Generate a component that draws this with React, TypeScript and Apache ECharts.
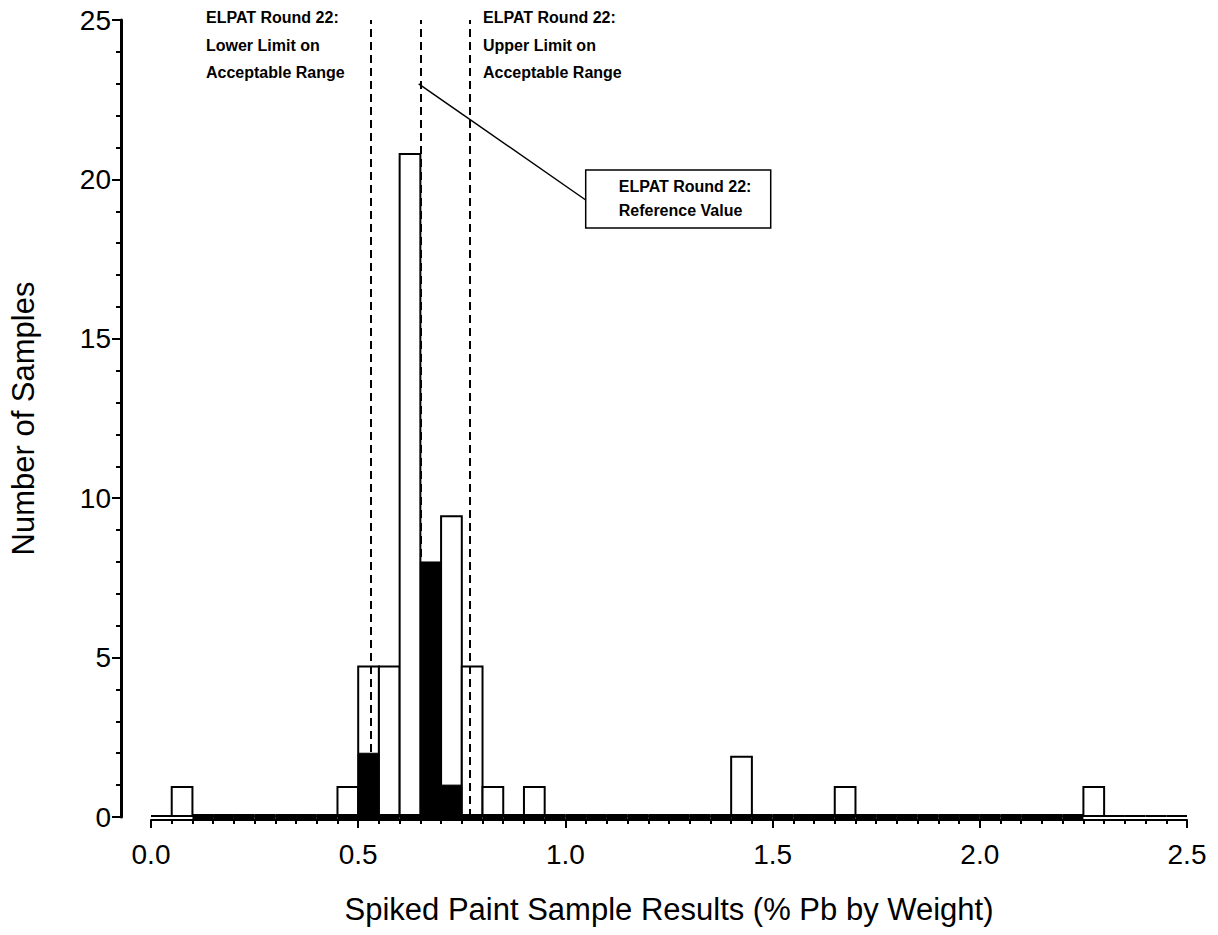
import React, { useEffect, useRef } from "react";
import * as echarts from "echarts";

// ---- data ----
const binWidth = 0.05;
// all spiked paint results (outlined bars), bins start at 0.00
const whiteBinStart = 0.0;
const whiteCounts = [
  0, 0.94, 0, 0, 0, 0, 0, 0, 0, 0.94, // 0.00 - 0.45
  4.72, 4.72, 20.8, 0, 9.43, 4.72, 0.94, 0, 0.94, 0, // 0.50 - 0.95
  0, 0, 0, 0, 0, 0, 0, 0, 1.89, 0, // 1.00 - 1.45
  0, 0, 0, 0.94, 0, 0, 0, 0, 0, 0, // 1.50 - 1.95
  0, 0, 0, 0, 0, 0.94, 0, 0, 0, 0, // 2.00 - 2.45
];
// subset results (solid bars), bins start at 0.10
const blackBinStart = 0.1;
const blackCounts = [
  0, 0, 0, 0, 0, 0, 0, 0, 2, 0, // 0.10 - 0.55
  0, 8, 1, 0, 0, 0, 0, 0, 0, 0, // 0.60 - 1.05
  0, 0, 0, 0, 0, 0, 0, 0, 0, 0, // 1.10 - 1.55
  0, 0, 0, 0, 0, 0, 0, 0, 0, 0, // 1.60 - 2.05
  0, 0, 0, // 2.10 - 2.20
];
const refLower = 0.526;
const refValue = 0.646;
const refUpper = 0.765;
const refLines = [refLower, refValue, refUpper];
const xMin = 0, xMax = 2.5, xStep = 0.5;
const yMin = 0, yMax = 25, yStep = 5;

const lowerText = "ELPAT Round 22:\nLower Limit on\nAcceptable Range";
const upperText = "ELPAT Round 22:\nUpper Limit on\nAcceptable Range";
const refText = "ELPAT Round 22:\nReference Value";

const FONT = "'Liberation Sans', Arial, sans-serif";

export default function App() {
  const ref = useRef<HTMLDivElement>(null);
  useEffect(() => {
    if (!ref.current) return;
    const chart = echarts.init(ref.current, null, { renderer: "svg" });
    const whiteData = whiteCounts.map((v, i) => [whiteBinStart + i * binWidth, v]);
    const blackData = blackCounts.map((v, i) => [blackBinStart + i * binWidth, v]);

    const option: any = {
      animation: false,
      backgroundColor: "#ffffff",
      grid: { left: 150, right: 31, top: 20, bottom: 118, containLabel: false },
      xAxis: {
        type: "value",
        min: xMin,
        max: xMax,
        interval: xStep,
        offset: 3,
        name: "Spiked Paint Sample Results (% Pb by Weight)",
        nameLocation: "middle",
        nameGap: 74,
        nameTextStyle: { fontFamily: FONT, fontSize: 31, color: "#000" },
        axisLine: { show: true, onZero: false, lineStyle: { color: "#000", width: 2 } },
        axisTick: { show: true, length: 8, lineStyle: { color: "#000", width: 2 } },
        minorTick: { show: true, splitNumber: 10, length: 4, lineStyle: { color: "#000", width: 2 } },
        splitLine: { show: false },
        minorSplitLine: { show: false },
        axisLabel: {
          fontFamily: FONT,
          fontSize: 28,
          color: "#000",
          margin: 20,
          formatter: (v: number) => v.toFixed(1),
        },
      },
      yAxis: {
        type: "value",
        min: yMin,
        max: yMax,
        interval: yStep,
        offset: 30,
        name: "Number of Samples",
        nameLocation: "middle",
        nameGap: 82,
        nameTextStyle: { fontFamily: FONT, fontSize: 31, color: "#000" },
        axisLine: { show: true, onZero: false, lineStyle: { color: "#000", width: 3 } },
        axisTick: { show: true, length: 9, lineStyle: { color: "#000", width: 2 } },
        minorTick: { show: true, splitNumber: 5, length: 5, lineStyle: { color: "#000", width: 2 } },
        splitLine: { show: false },
        minorSplitLine: { show: false },
        axisLabel: { fontFamily: FONT, fontSize: 28, color: "#000", margin: 10 },
      },
      series: [
        {
          type: "custom",
          name: "all",
          data: whiteData,
          encode: { x: 0, y: 1 },
          z: 2,
          renderItem: (params: any, api: any) => {
            const s = api.value(0);
            const v = api.value(1);
            const p0 = api.coord([s, 0]);
            const p1 = api.coord([s + binWidth, v]);
            if (v === 0) {
              return {
                type: "line",
                shape: { x1: p0[0], y1: p0[1] - 1, x2: p1[0], y2: p0[1] - 1 },
                style: { stroke: "#000", lineWidth: 2 },
              };
            }
            return {
              type: "rect",
              shape: { x: p0[0], y: p1[1], width: p1[0] - p0[0], height: p0[1] - p1[1] - 1 },
              style: { fill: "#fff", stroke: "#000", lineWidth: 2 },
            };
          },
        },
        {
          type: "custom",
          name: "subset",
          data: blackData,
          encode: { x: 0, y: 1 },
          z: 3,
          renderItem: (params: any, api: any) => {
            const s = api.value(0);
            const v = api.value(1);
            const p0 = api.coord([s, 0]);
            const p1 = api.coord([s + binWidth, v]);
            if (v === 0) {
              return {
                type: "rect",
                shape: { x: p0[0], y: p0[1] - 3, width: p1[0] - p0[0], height: 6 },
                style: { fill: "#000" },
              };
            }
            return {
              type: "rect",
              shape: { x: p0[0], y: p1[1], width: p1[0] - p0[0], height: p0[1] - p1[1] + 3 },
              style: { fill: "#000", stroke: "#000", lineWidth: 1 },
            };
          },
          markLine: {
            silent: true,
            symbol: "none",
            label: { show: false },
            lineStyle: { color: "#000", type: [8, 5], width: 2 },
            data: refLines.map((x) => ({ xAxis: x })),
          },
        },
      ],
    };
    chart.setOption(option);

    const px = (x: number, y: number) => chart.convertToPixel({ gridIndex: 0 }, [x, y]) as number[];
    const lo = px(refLower, yMax);
    const up = px(refUpper, yMax);
    const rv = px(refValue, 23);
    const boxLeft = px(1.049, 0)[0];
    const boxTop = 170;
    const boxW = 185;
    const boxH = 58;

    chart.setOption({
      graphic: [
        {
          type: "text",
          x: lo[0] - 163,
          y: 4,
          z: 10,
          style: {
            text: lowerText,
            font: `bold 16px ${FONT}`,
            fill: "#000",
            lineHeight: 27.5,
            textAlign: "left",
            textVerticalAlign: "top",
          },
        },
        {
          type: "text",
          x: up[0] + 15,
          y: 4,
          z: 10,
          style: {
            text: upperText,
            font: `bold 16px ${FONT}`,
            fill: "#000",
            lineHeight: 27.5,
            textAlign: "left",
            textVerticalAlign: "top",
          },
        },
        {
          type: "line",
          z: 10,
          shape: { x1: rv[0], y1: rv[1], x2: boxLeft, y2: boxTop + boxH / 2 + 1 },
          style: { stroke: "#000", lineWidth: 1.5 },
        },
        {
          type: "rect",
          z: 10,
          shape: { x: boxLeft, y: boxTop, width: boxW, height: boxH },
          style: { fill: "#fff", stroke: "#000", lineWidth: 1.5 },
        },
        {
          type: "text",
          z: 11,
          x: boxLeft + 33,
          y: boxTop + 4,
          style: {
            text: refText,
            font: `bold 16px ${FONT}`,
            fill: "#000",
            lineHeight: 24,
            textAlign: "left",
            textVerticalAlign: "top",
          },
        },
      ],
    });

    return () => chart.dispose();
  }, []);

  return (
    <div
      ref={ref}
      style={{ position: "fixed", left: 0, top: 0, width: 1218, height: 935, background: "#fff" }}
    />
  );
}
